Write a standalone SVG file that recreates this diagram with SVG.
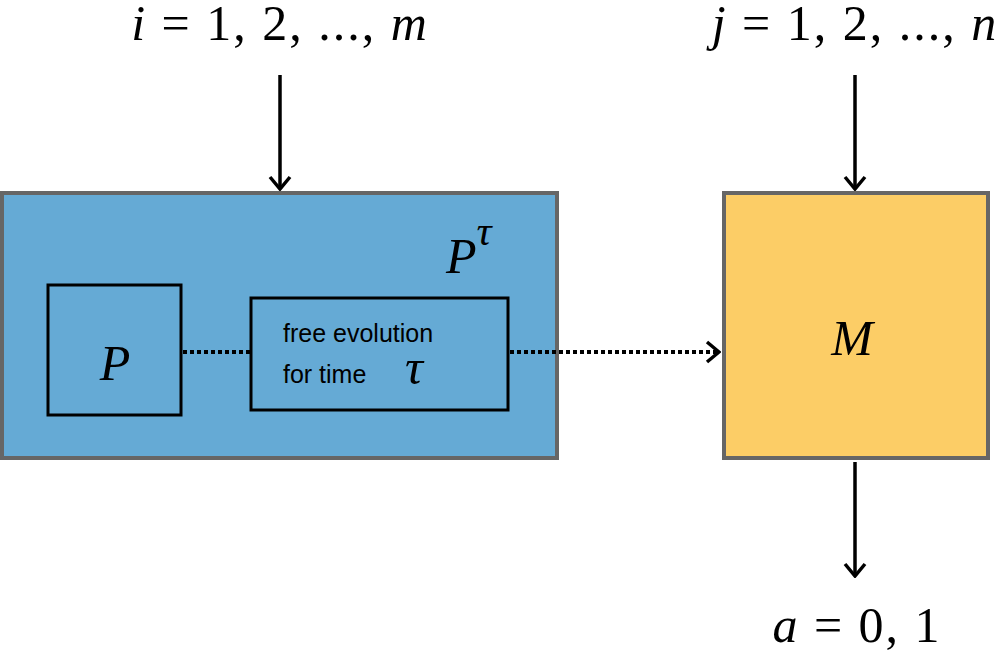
<svg xmlns="http://www.w3.org/2000/svg" width="1002" height="653" viewBox="0 0 1002 653">
<style>
.m{font-family:"Liberation Serif",serif;font-size:50px;fill:#000}
.i{font-style:italic}
.s{font-family:"Liberation Sans",sans-serif;font-size:25px;fill:#000}
.ln{stroke:#000;stroke-width:3.5;fill:none}
.dt{stroke:#000;stroke-width:4;stroke-dasharray:4 3;fill:none}
</style>
<defs>
<marker id="b" markerWidth="24" markerHeight="24" refX="22" refY="12" orient="auto" markerUnits="userSpaceOnUse"><path d="M10,2 L22,12 L10,22" fill="none" stroke="#000" stroke-width="3.5"/></marker></defs>
<g id="blue"><rect x="2" y="193" width="555" height="265" fill="#65aad5" stroke="#666" stroke-width="4"/>
<text class="m" x="446" y="273" font-size="70"><tspan class="i">P</tspan><tspan class="i" font-size="42" dy="-28">τ</tspan></text></g>
<g id="p"><rect x="48" y="285" width="133" height="130" fill="none" stroke="#000" stroke-width="3"/><text class="m i" x="115" y="380" font-size="82" text-anchor="middle">P</text></g>
<g id="free"><rect x="251" y="298" width="257" height="112" fill="none" stroke="#000" stroke-width="3"/><text class="s" x="283" y="342">free evolution</text><text class="s" x="283" y="383">for time</text><text class="m i" x="405" y="384" font-size="44">τ</text></g>
<g id="mbox"><rect x="724" y="193" width="264" height="265" fill="#fccd66" stroke="#666" stroke-width="4"/><text class="m i" x="852" y="355" font-size="76" text-anchor="middle">M</text></g>
<g id="labels">
<text class="m" x="280" y="40" text-anchor="middle" letter-spacing="2"><tspan class="i">i</tspan> = 1, 2, ..., <tspan class="i">m</tspan></text>
<text class="m" x="855" y="40" text-anchor="middle" letter-spacing="2"><tspan class="i">j</tspan> = 1, 2, ..., <tspan class="i">n</tspan></text>
<text class="m" x="857" y="642" text-anchor="middle" letter-spacing="2"><tspan class="i">a</tspan> = 0, 1</text>
</g>
<g id="connectors">
<line class="ln" x1="280" y1="75" x2="280" y2="189" marker-end="url(#b)"/>
<line class="ln" x1="855" y1="75" x2="855" y2="189" marker-end="url(#b)"/>
<line class="ln" x1="855" y1="462" x2="855" y2="576" marker-end="url(#b)"/>
<line class="dt" x1="183" y1="352" x2="250" y2="352"/>
<line class="dt" x1="510" y1="352" x2="719" y2="352" marker-end="url(#b)"/>
</g>
</svg>
